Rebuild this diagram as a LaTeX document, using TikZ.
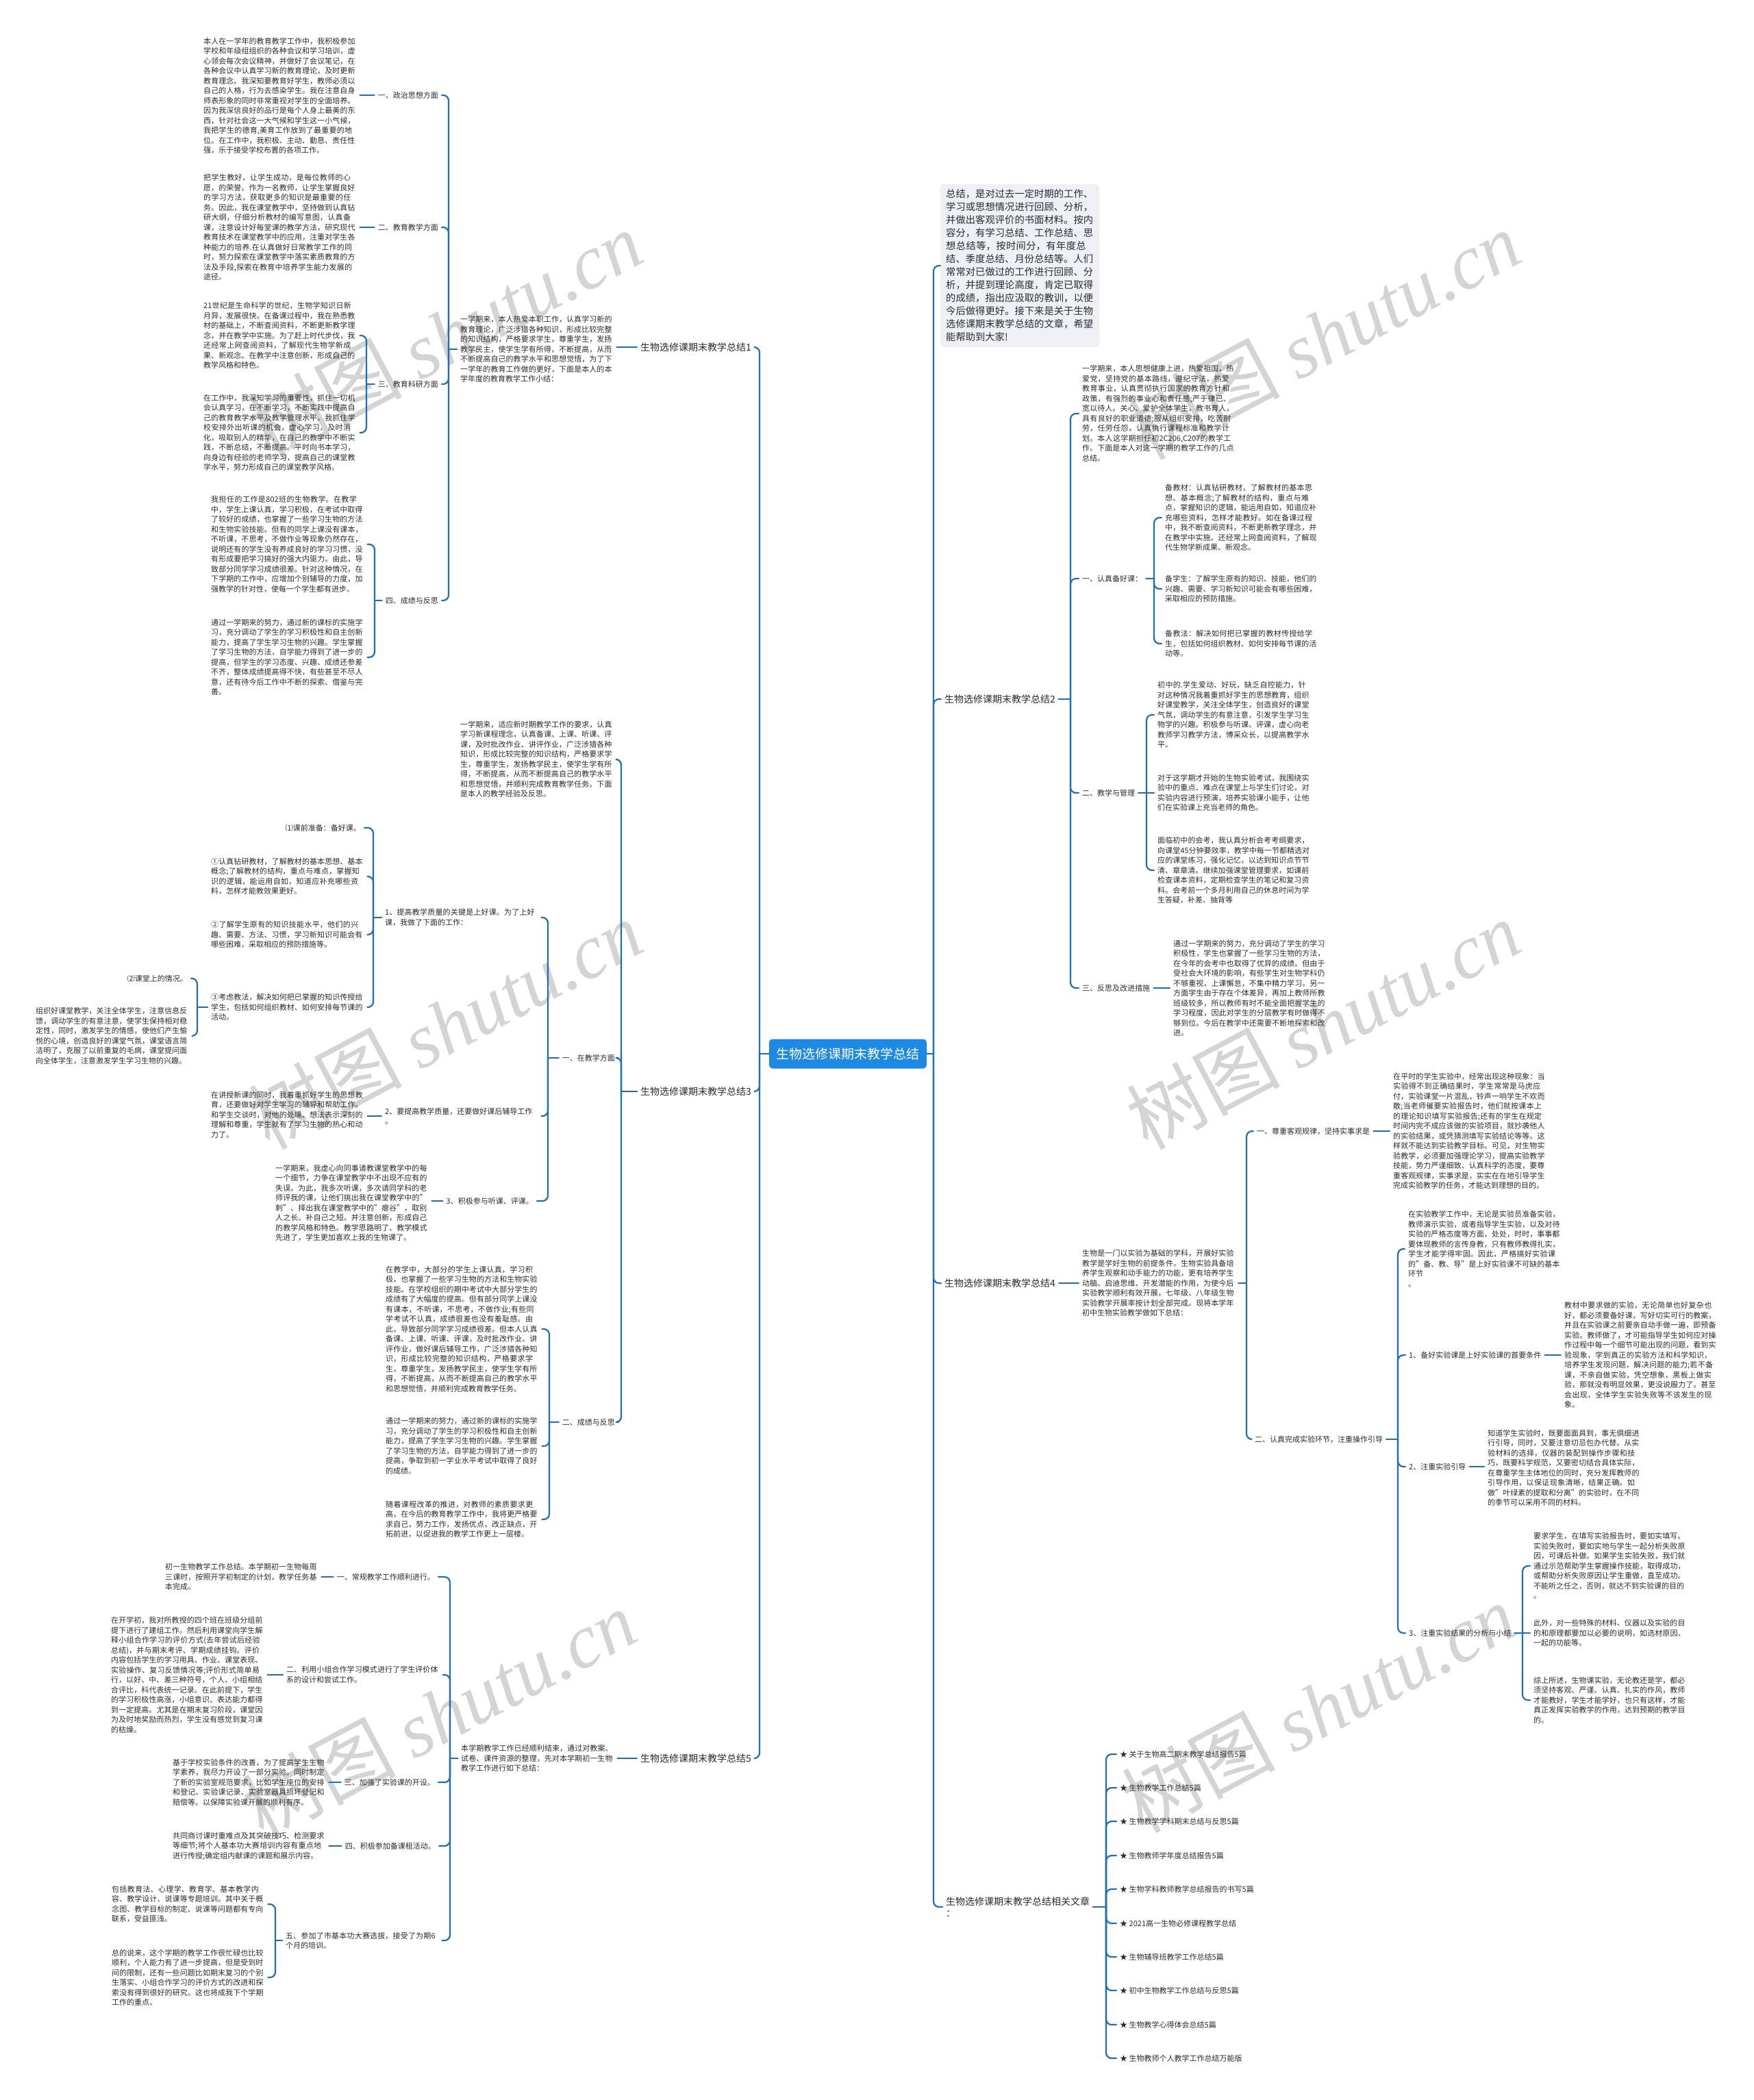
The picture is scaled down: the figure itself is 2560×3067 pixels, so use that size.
\documentclass[tikz,border=0pt]{standalone}
\usepackage{fontspec}
\setmainfont{Noto Sans CJK SC}
\newfontfamily\wmlatin{Liberation Serif}
\XeTeXlinebreaklocale "zh"
\XeTeXlinebreakskip = 0pt plus 1pt
\definecolor{lc}{HTML}{1F6EB8}
\definecolor{cfill}{HTML}{1E88E5}
\definecolor{ibox}{HTML}{EEF0F4}
\definecolor{tc}{HTML}{2B2B2B}
\newcommand{\Lbr}[3]{\coordinate (bxx) at (#3,0);
 \draw[conn] (#1.west) -- (#1.west -| bxx);
 \draw[conn,rounded corners=8pt] (#1.west -| bxx) |- (#2.east);}
\newcommand{\Rbr}[3]{\coordinate (bxx) at (#3,0);
 \draw[conn] (#1.east) -- (#1.east -| bxx);
 \draw[conn,rounded corners=8pt] (#1.east -| bxx) |- (#2.west);}
\newcommand{\Lst}[2]{\draw[conn] (#1.west) -- (#1.west -| #2.east);}
\newcommand{\Rst}[2]{\draw[conn] (#1.east) -- (#1.east -| #2.west);}
\begin{document}
\begin{tikzpicture}[x=1pt,y=-1pt,
 conn/.style={draw=lc,line width=2.2pt,line cap=round},
 txt/.style={font=\fontsize{11}{14.5}\selectfont,text=tc,text width=223pt,align=left,inner xsep=5pt,inner ysep=1pt,anchor=west},
 lab/.style={font=\fontsize{11}{14.5}\selectfont,text=tc,inner xsep=5pt,inner ysep=1pt},
 topl/.style={font=\fontsize{14}{17}\selectfont,text=tc,inner xsep=5pt,inner ysep=2pt},
 wm/.style={text=black!17,font=\fontsize{112}{120}\selectfont,rotate=28,inner sep=0pt},
 item/.style={font=\fontsize{11}{14.5}\selectfont,text=tc,inner xsep=5pt,inner ysep=1pt,anchor=west}]
\useasboundingbox (0,0) rectangle (2560,3067);
\fill[white] (0,0) rectangle (2560,3067);
% watermarks
\foreach \wx/\wy in {650/489,650/1496,641/2503,1932/489,1932/1496,1925/2494}{
 \node[wm] at (\wx,\wy) {树图 {\wmlatin\itshape shutu.cn}};}
% center
\node[fill=cfill,text=white,rounded corners=5pt,minimum width=230pt,minimum height=43pt,inner sep=0pt,font=\fontsize{19}{22}\selectfont] (C) at (1238,1539) {生物选修课期末教学总结};
% ================= LEFT: branch 1
\node[topl,anchor=east] (L1) at (1102,507) {生物选修课期末教学总结1};
\node[txt] (S1) at (667,510) {一学期来，本人热爱本职工作，认真学习新的教育理论，广泛涉猎各种知识，形成比较完整的知识结构，严格要求学生，尊重学生，发扬教学民主，使学生学有所得，不断提高，从而不断提高自己的教学水平和思想觉悟，为了下一学年的教育工作做的更好，下面是本人的本学年度的教育教学工作小结：};
\node[lab,anchor=east] (A1) at (645,139) {一、政治思想方面};
\node[lab,anchor=east] (A2) at (645,332) {二、教育教学方面};
\node[lab,anchor=east] (A3) at (645,561) {三、教育科研方面};
\node[lab,anchor=east] (A4) at (645,877) {四、成绩与反思};
\node[txt] (T1) at (292,140) {本人在一学年的教育教学工作中，我积极参加学校和年级组组织的各种会议和学习培训，虚心领会每次会议精神，并做好了会议笔记，在各种会议中认真学习新的教育理论，及时更新教育理念。我深知要教育好学生，教师必须以自己的人格，行为去感染学生。我在注意自身师表形象的同时非常重视对学生的全面培养。因为我深信良好的品行是每个人身上最美的东西，针对社会这一大气候和学生这一小气候，我把学生的德育,美育工作放到了最重要的地位。在工作中，我积极、主动、勤恳、责任性强，乐于接受学校布置的各项工作。};
\node[txt] (T2) at (292,332) {把学生教好，让学生成功，是每位教师的心愿，的荣誉。作为一名教师，让学生掌握良好的学习方法，获取更多的知识是最重要的任务。因此，我在课堂教学中，坚持做到认真钻研大纲，仔细分析教材的编写意图，认真备课，注意设计好每堂课的教学方法，研究现代教育技术在课堂教学中的应用，注重对学生各种能力的培养.在认真做好日常教学工作的同时，努力探索在课堂教学中落实素质教育的方法及手段,探索在教育中培养学生能力发展的途径。};
\node[txt] (T3) at (292,490) {21世纪是生命科学的世纪，生物学知识日新月异，发展很快。在备课过程中，我在熟悉教材的基础上，不断查阅资料，不断更新教学理念，并在教学中实施。为了赶上时代步伐，我还经常上网查阅资料，了解现代生物学新成果、新观念。在教学中注意创新，形成自己的教学风格和特色。};
\node[txt] (T4) at (292,632) {在工作中，我深知学习的重要性，抓住一切机会认真学习，在不断学习，不断实践中提高自己的教育教学水平及教学管理水平。我抓住学校安排外出听课的机会，虚心学习，及时消化，吸取别人的精华，在自己的教学中不断实践，不断总结，不断提高。平时向书本学习，向身边有经验的老师学习，提高自己的课堂教学水平，努力形成自己的课堂教学风格。};
\node[txt] (T5) at (303,795) {我担任的工作是802班的生物教学。在教学中，学生上课认真，学习积极，在考试中取得了较好的成绩，也掌握了一些学习生物的方法和生物实验技能。但有的同学上课没有课本，不听课，不思考，不做作业等现象仍然存在，说明还有的学生没有养成良好的学习习惯，没有形成要把学习搞好的强大内驱力。由此，导致部分同学学习成绩很差。针对这种情况，在下学期的工作中，应增加个别辅导的力度，加强教学的针对性，使每一个学生都有进步。};
\node[txt] (T6) at (303,960) {通过一学期来的努力，通过新的课标的实施学习，充分调动了学生的学习积极性和自主创新能力，提高了学生学习生物的兴趣。学生掌握了学习生物的方法，自学能力得到了进一步的提高，但学生的学习态度、兴趣、成绩还参差不齐，整体成绩提高得不快，有些甚至不尽人意，还有待今后工作中不断的探索、借鉴与完善。};
\Lbr{C}{L1}{1109}
\Lst{L1}{S1}
\Lbr{S1}{A1}{655}\Lbr{S1}{A2}{655}\Lbr{S1}{A3}{655}\Lbr{S1}{A4}{655}
\Lst{A1}{T1}\Lst{A2}{T2}
\Lbr{A3}{T3}{535}\Lbr{A3}{T4}{535}
\Lbr{A4}{T5}{547}\Lbr{A4}{T6}{547}
% ================= LEFT: branch 3
\node[topl,anchor=east] (L3) at (1102,1594) {生物选修课期末教学总结3};
\node[txt] (S3) at (667,1109) {一学期来，适应新时期教学工作的要求，认真学习新课程理念，认真备课、上课、听课、评课，及时批改作业、讲评作业，广泛涉猎各种知识，形成比较完整的知识结构，严格要求学生，尊重学生，发扬教学民主，使学生学有所得，不断提高，从而不断提高自己的教学水平和思想觉悟，并顺利完成教育教学任务。下面是本人的教学经验及反思。};
\node[lab,anchor=east] (C1) at (903,1545) {一、在教学方面};
\node[lab,anchor=east] (C2) at (903,2077) {二、成绩与反思};
\node[txt] (D1) at (557,1340) {1、提高教学质量的关键是上好课。为了上好课，我做了下面的工作：};
\node[txt] (D2) at (557,1630) {2、要提高教学质量，还要做好课后辅导工作\\。};
\node[lab,anchor=east] (D3) at (784,1754) {3、积极参与听课、评课。};
\node[lab,anchor=east] (E1) at (532,1209) {⑴课前准备：备好课。};
\node[txt] (E2) at (303,1280) {①认真钻研教材，了解教材的基本思想、基本概念;了解教材的结构，重点与难点，掌握知识的逻辑，能运用自如，知道应补充哪些资料，怎样才能教效果更好。};
\node[txt] (E3) at (303,1365) {②了解学生原有的知识技能水平，他们的兴趣、需要、方法、习惯，学习新知识可能会有哪些困难，采取相应的预防措施等。};
\node[txt] (E4) at (303,1471) {③考虑教法，解决如何把已掌握的知识传授给学生，包括如何组织教材、如何安排每节课的活动。};
\node[lab,anchor=east] (F1) at (279,1429) {⑵课堂上的情况。};
\node[txt] (F2) at (47,1513) {组织好课堂教学，关注全体学生，注意信息反馈，调动学生的有意注意，使学生保持相对稳定性，同时，激发学生的情感，使他们产生愉悦的心境，创造良好的课堂气氛，课堂语言简洁明了，克服了以前重复的毛病，课堂提问面向全体学生，注意激发学生学习生物的兴趣。};
\node[txt] (G1) at (303,1628) {在讲授新课的同时，我着重抓好学生的思想教育，还要做好对学生学习的辅导和帮助工作。和学生交谈时，对他的处境、想法表示深刻的理解和尊重，学生就有了学习生物的热心和动力了。};
\node[txt] (G2) at (397,1757) {一学期来，我虚心向同事请教课堂教学中的每一个细节，力争在课堂教学中不出现不应有的失误。为此，我多次听课，多次请同学科的老师评我的课，让他们挑出我在课堂教学中的"刺"、择出我在课堂教学中的"瘪谷"，取别人之长、补自己之短。并注意创新，形成自己的教学风格和特色。教学思路明了、教学模式先进了，学生更加喜欢上我的生物课了。};
\node[txt] (H1) at (558,1941) {在教学中，大部分的学生上课认真，学习积极，也掌握了一些学习生物的方法和生物实验技能。在学校组织的期中考试中大部分学生的成绩有了大幅度的提高。但有部分同学上课没有课本，不听课，不思考，不做作业;有些同学考试不认真，成绩很差也没有羞耻感。由此，导致部分同学学习成绩很差。但本人认真备课、上课、听课、评课，及时批改作业、讲评作业，做好课后辅导工作，广泛涉猎各种知识，形成比较完整的知识结构，严格要求学生，尊重学生，发扬教学民主，使学生学有所得，不断提高，从而不断提高自己的教学水平和思想觉悟，并顺利完成教育教学任务。};
\node[txt] (H2) at (558,2112) {通过一学期来的努力，通过新的课标的实施学习，充分调动了学生的学习积极性和自主创新能力，提高了学生学习生物的兴趣。学生掌握了学习生物的方法，自学能力得到了进一步的提高，争取到初一学业水平考试中取得了良好的成绩。};
\node[txt] (H3) at (558,2219) {随着课程改革的推进，对教师的素质要求更高，在今后的教育教学工作中，我将更严格要求自己，努力工作，发扬优点，改正缺点，开拓前进，以促进我的教学工作更上一层楼。};
\Lbr{C}{L3}{1109}
\Lbr{L3}{S3}{907}\Lbr{L3}{C1}{907}\Lbr{L3}{C2}{907}
\Lbr{C1}{D1}{800}\Lbr{C1}{D2}{800}\Lbr{C1}{D3}{800}
\Lbr{D1}{E1}{545}\Lbr{D1}{E2}{545}\Lbr{D1}{E3}{545}\Lbr{D1}{E4}{545}
\Lbr{E4}{F1}{288}\Lbr{E4}{F2}{288}
\Lst{D2}{G1}\Lst{D3}{G2}
\Lbr{C2}{H1}{802}\Lbr{C2}{H2}{802}\Lbr{C2}{H3}{802}
% ================= LEFT: branch 5
\node[topl,anchor=east] (L5) at (1102,2568) {生物选修课期末教学总结5};
\node[txt] (S5) at (668,2568) {本学期教学工作已经顺利结束，通过对教案、试卷、课件资源的整理，先对本学期初一生物教学工作进行如下总结：};
\node[lab,anchor=east] (P1) at (640,2303) {一、常规教学工作顺利进行。};
\node[txt] (P2) at (413,2446) {二、利用小组合作学习模式进行了学生评价体系的设计和尝试工作。};
\node[lab,anchor=east] (P3) at (640,2603) {三、加强了实验课的开设。};
\node[lab,anchor=east] (P4) at (641,2696) {四、积极参加备课租活动。};
\node[txt] (P5) at (412,2834) {五、参加了市基本功大赛选拔，接受了为期6个月的培训。};
\node[txt] (Q1) at (236,2303) {初一生物教学工作总结。本学期初一生物每周三课时，按照开学初制定的计划，教学任务基本完成。};
\node[txt] (Q2) at (157,2446) {在开学初，我对所教授的四个班在班级分组前提下进行了建组工作。然后利用课堂向学生解释小组合作学习的评价方式(去年尝试后经验总结)，并与期末考评、学期成绩挂钩。评价内容包括学生的学习用具、作业、课堂表现、实验操作、复习反馈情况等;评价形式简单易行，以好、中、差三种符号，个人、小组相结合评比，科代表统一记录。在此前提下，学生的学习积极性高涨，小组意识、表达能力都得到一定提高。尤其是在期末复习阶段，课堂因为及时地奖励而热烈，学生没有感觉到复习课的枯燥。};
\node[txt] (Q3) at (247,2603) {基于学校实验条件的改善，为了提高学生生物学素养，我尽力开设了一部分实验。同时制定了新的实验室规范要求，比如学生座位的安排和登记、实验课记录、实验室器具损坏登记和赔偿等。以保障实验课开展的顺利有序。};
\node[txt] (Q4) at (247,2696) {共同商讨课时重难点及其突破技巧、检测要求等细节;将个人基本功大赛培训内容有重点地进行传授;确定组内献课的课题和展示内容。};
\node[txt] (Q5) at (158,2781) {包括教育法、心理学、教育学、基本教学内容、教学设计、说课等专题培训。其中关于概念图、教学目标的制定、说课等问题都有专向联系，受益匪浅。};
\node[txt] (Q6) at (158,2888) {总的说来，这个学期的教学工作很忙碌也比较顺利，个人能力有了进一步提高，但是受到时间的限制，还有一些问题比如期末复习的个别生落实、小组合作学习的评价方式的改进和探索没有得到很好的研究。这也将成我下个学期工作的重点。};
\Lbr{C}{L5}{1109}
\Lst{L5}{S5}
\Lbr{S5}{P1}{657}\Lbr{S5}{P2}{657}\Lbr{S5}{P3}{657}\Lbr{S5}{P4}{657}\Lbr{S5}{P5}{657}
\Lst{P1}{Q1}\Lst{P2}{Q2}\Lst{P3}{Q3}\Lst{P4}{Q4}
\Lbr{P5}{Q5}{402}\Lbr{P5}{Q6}{402}
% ================= RIGHT: intro
\node[fill=ibox,rounded corners=6pt,anchor=west,text width=216pt,align=left,inner sep=8pt,font=\fontsize{14.3}{19}\selectfont,text=tc] (I) at (1373,388) {总结，是对过去一定时期的工作、学习或思想情况进行回顾、分析，并做出客观评价的书面材料。按内容分，有学习总结、工作总结、思想总结等，按时间分，有年度总结、季度总结、月份总结等。人们常常对已做过的工作进行回顾、分析，并提到理论高度，肯定已取得的成绩，指出应汲取的教训，以便今后做得更好。接下来是关于生物选修课期末教学总结的文章，希望能帮助到大家!};
\Rbr{C}{I}{1363}
% ================= RIGHT: branch 2
\node[topl,anchor=west] (R2) at (1374,1021) {生物选修课期末教学总结2};
\node[txt] (U0) at (1575,604) {一学期来，本人思想健康上进，热爱祖国，热爱党，坚持党的基本路线，遵纪守法，热爱教育事业，认真贯彻执行国家的教育方针和政策，有强烈的事业心和责任感;严于律已、宽以待人。关心、爱护全体学生，教书育人，具有良好的职业道德;服从组织安排，吃苦耐劳，任劳任怨，认真执行课程标准和教学计划。本人这学期担任初2C206,C207的教学工作。下面是本人对这一学期的教学工作的几点总结。};
\node[lab,anchor=west] (U1) at (1575,845) {一、认真备好课：};
\node[lab,anchor=west] (U2) at (1575,1158) {二、教学与管理};
\node[lab,anchor=west] (U3) at (1575,1443) {三、反思及改进措施};
\node[txt] (V1) at (1696,756) {备教材：认真钻研教材，了解教材的基本思想、基本概念;了解教材的结构，重点与难点，掌握知识的逻辑，能运用自如，知道应补充哪些资料，怎样才能教好。如在备课过程中，我不断查阅资料，不断更新教学理念，并在教学中实施。还经常上网查阅资料，了解现代生物学新成果、新观念。};
\node[txt] (V2) at (1696,860) {备学生：了解学生原有的知识、技能，他们的兴趣、需要、学习新知识可能会有哪些困难，采取相应的预防措施。};
\node[txt] (V3) at (1696,940) {备教法：解决如何把已掌握的教材传授给学生，包括如何组织教材、如何安排每节课的活动等。};
\node[txt] (W1) at (1685,1044) {初中的.学生爱动、好玩，缺乏自控能力，针对这种情况我着重抓好学生的思想教育，组织好课堂教学，关注全体学生，创造良好的课堂气氛，调动学生的有意注意，引发学生学习生物学的兴趣。积极参与听课、评课，虚心向老教师学习教学方法，博采众长，以提高教学水平。};
\node[txt] (W2) at (1685,1158) {对于这学期才开始的生物实验考试，我围绕实验中的重点、难点在课堂上与学生们讨论，对实验内容进行预演，培养实验课小能手，让他们在实验课上充当老师的角色。};
\node[txt] (W3) at (1685,1271) {面临初中的会考，我认真分析会考考纲要求，向课堂45分钟要效率，教学中每一节都精选对应的课堂练习，强化记忆，以达到知识点节节清、章章清。继续加强课堂管理要求，如课前检查课本资料，定期检查学生的笔记和复习资料。会考前一个多月利用自己的休息时间为学生答疑，补差、抽背等};
\node[txt] (X1) at (1708,1443) {通过一学期来的努力，充分调动了学生的学习积极性，学生也掌握了一些学习生物的方法，在今年的会考中也取得了优异的成绩。但由于受社会大环境的影响，有些学生对生物学科仍不够重视，上课懈怠，不集中精力学习。另一方面学生由于存在个体差异，再加上教师所教班级较多，所以教师有时不能全面把握学生的学习程度，因此对学生的分层教学有时做得不够到位。今后在教学中还需要不断地探索和改进。};
\Rbr{C}{R2}{1363}
\Rbr{R2}{U0}{1563}\Rbr{R2}{U1}{1563}\Rbr{R2}{U2}{1563}\Rbr{R2}{U3}{1563}
\Rbr{U1}{V1}{1685}\Rbr{U1}{V2}{1685}\Rbr{U1}{V3}{1685}
\Rbr{U2}{W1}{1674}\Rst{U2}{W2}\Rbr{U2}{W3}{1674}
\Rst{U3}{X1}
% ================= RIGHT: branch 4
\node[topl,anchor=west] (R4) at (1374,1874) {生物选修课期末教学总结4};
\node[txt] (Y0) at (1575,1874) {生物是一门以实验为基础的学科，开展好实验教学是学好生物的前提条件。生物实验具备培养学生观察和动手能力的功能，更有培养学生动脑、启迪思维、开发潜能的作用，为使今后实验教学顺利有效开展，七年级、八年级生物实验教学开展率按计划全部完成。现将本学年初中生物实验教学做如下总结：};
\node[lab,anchor=west] (Z1) at (1830,1652) {一、尊重客观规律，坚持实事求是};
\node[lab,anchor=west] (Z2) at (1827,2102) {二、认真完成实验环节，注重操作引导};
\node[txt] (Z1t) at (2029,1652) {在平时的学生实验中，经常出现这种现象：当实验得不到正确结果时，学生常常是马虎应付，实验课堂一片混乱，铃声一响学生不欢而散;当老师催要实验报告时，他们就按课本上的理论知识填写实验报告;还有的学生在规定时间内完不成应该做的实验项目，就抄袭他人的实验结果，或凭猜测填写实验结论等等。这样就不能达到实验教学目标。可见，对生物实验教学，必须要加强理论学习，提高实验教学技能，势力严谨细致、认真科学的态度，要尊重客观规律，实事求是，实实在在地引导学生完成实验教学的任务，才能达到理想的目的。};
\node[txt] (Z2a) at (2051,1824) {在实验教学工作中，无论是实验员准备实验，教师演示实验，或者指导学生实验，以及对待实验的严格态度等方面，处处，时时，事事都要体现教师的言传身教，只有教师教得扎实，学生才能学得牢固。因此，严格搞好实验课的"备、教、导"是上好实验课不可缺的基本环节\\。};
\node[lab,anchor=west] (Z2b) at (2052,1979) {1、备好实验课是上好实验课的首要条件};
\node[lab,anchor=west] (Z2c) at (2052,2142) {2、注重实验引导};
\node[lab,anchor=west] (Z2d) at (2052,2385) {3、注重实验结果的分析与小结};
\node[txt] (Z2bt) at (2279,1979) {教材中要求做的实验，无论简单也好复杂也好，都必须要备好课，写好切实可行的教案，并且在实验课之前要亲自动手做一遍，即预备实验。教师做了，才可能指导学生如何应对操作过程中每一个细节可能出现的问题，看到实验现象，学到真正的实验方法和科学知识，培养学生发现问题，解决问题的能力;若不备课，不亲自做实验，凭空想象，黑板上做实验，那就没有明显效果，更没说服力了。甚至会出现，全体学生实验失败等不该发生的现象。};
\node[txt] (Z2ct) at (2167,2144) {知道学生实验时，既要面面具到，事无俱细进行引导，同时，又要注意切忌包办代替。从实验材料的选择，仪器的装配到操作步骤和技巧，既要科学规范，又要密切结合具体实际，在尊重学生主体地位的同时，充分发挥教师的引导作用，以保证现象清晰，结果正确。如做"叶绿素的提取和分离"的实验时，在不同的季节可以采用不同的材料。};
\node[txt] (Z2d1) at (2234,2287) {要求学生，在填写实验报告时，要如实填写。实验失败时，要如实地与学生一起分析失败原因，可课后补做。如果学生实验失败，我们就通过示范帮助学生掌握操作技能，取得成功，或帮助分析失败原因让学生重做，直至成功。不能听之任之，否则，就达不到实验课的目的\\。};
\node[txt] (Z2d2) at (2234,2385) {此外，对一些特殊的材料、仪器以及实验的目的和原理都要加以必要的说明，如选材原因、一起的功能等。};
\node[txt] (Z2d3) at (2234,2483) {综上所述，生物课实验，无论教还是学，都必须坚持客观、严谨、认真、扎实的作风，教师才能教好，学生才能学好，也只有这样，才能真正发挥实验教学的作用，达到预期的教学目的。};
\Rbr{C}{R4}{1363}
\Rst{R4}{Y0}
\Rbr{Y0}{Z1}{1820}\Rbr{Y0}{Z2}{1820}
\Rst{Z1}{Z1t}
\Rbr{Z2}{Z2a}{2041}\Rbr{Z2}{Z2b}{2041}\Rbr{Z2}{Z2c}{2041}\Rbr{Z2}{Z2d}{2041}
\Rst{Z2b}{Z2bt}\Rst{Z2c}{Z2ct}
\Rbr{Z2d}{Z2d1}{2223}\Rst{Z2d}{Z2d2}\Rbr{Z2d}{Z2d3}{2223}
% ================= RIGHT: related
\node[topl,anchor=west,align=left] (RA) at (1376,2785) {生物选修课期末教学总结相关文章\\：};
\node[item] (K1) at (1630,2562) {★ 关于生物高二期末教学总结报告5篇};
\node[item] (K2) at (1630,2611) {★ 生物教学工作总结5篇};
\node[item] (K3) at (1630,2660) {★ 生物教学学科期末总结与反思5篇};
\node[item] (K4) at (1630,2710) {★ 生物教师学年度总结报告5篇};
\node[item] (K5) at (1630,2759) {★ 生物学科教师教学总结报告的书写5篇};
\node[item] (K6) at (1630,2809) {★ 2021高一生物必修课程教学总结};
\node[item] (K7) at (1630,2858) {★ 生物辅导班教学工作总结5篇};
\node[item] (K8) at (1630,2907) {★ 初中生物教学工作总结与反思5篇};
\node[item] (K9) at (1630,2957) {★ 生物教学心得体会总结5篇};
\node[item] (K10) at (1630,3006) {★ 生物教师个人教学工作总结万能版};
\Rbr{C}{RA}{1363}
\foreach \k in {K1,K2,K3,K4,K5,K6,K7,K8,K9,K10}{\Rbr{RA}{\k}{1615}}
\end{tikzpicture}
\end{document}
